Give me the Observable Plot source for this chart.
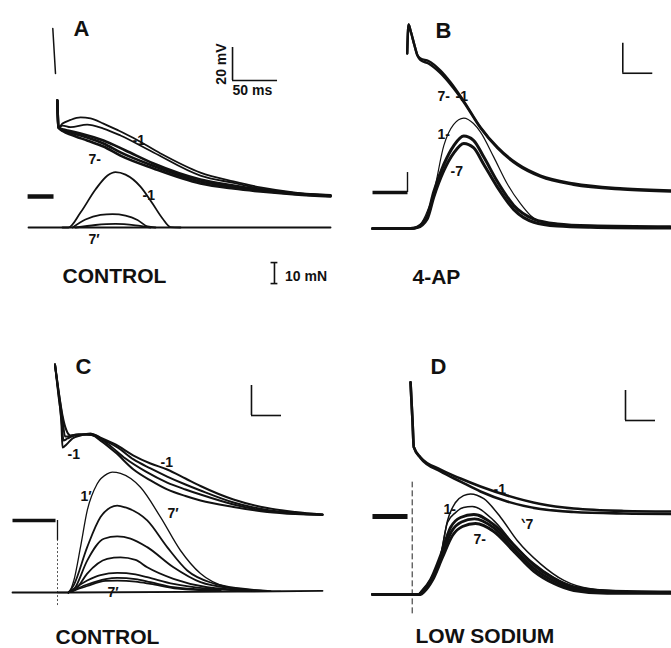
<!DOCTYPE html>
<html>
<head>
<meta charset="utf-8">
<script src="https://cdn.jsdelivr.net/npm/d3@7"></script>
<script src="https://cdn.jsdelivr.net/npm/@observablehq/plot@0.6"></script>
<style>
  html, body { margin: 0; padding: 0; background: #fff; }
  #fig { position: relative; width: 671px; height: 648px; overflow: hidden; background: #fff; }
  #fig svg { position: absolute; }
</style>
</head>
<body>
<div id="fig"></div>
<script>
// ---------- DATA: time (ms from stimulus), membrane potential (mV above rest), force (mN) ----------
// Panel A — CONTROL
const aArtifact = [[-3,101.8],[0,74.5]];
const aV1 = [[2.0,58.2],[3.3,41.8],[7.8,44.2],[16.7,46.4],[27.8,47.9],[38.9,47.3],[53.3,44.2],[70,40],[86.7,35.5],[116.7,26.1],[161,14.5],[197.8,9.1],[227.8,5.5],[266.7,2.4],[305.6,0.9]];
const aV2 = [[2.0,58.2],[3.3,41.8],[7.8,43.0],[16.7,42.0],[35.2,43.6],[53.3,41.2],[72.2,37.0],[108.9,26.7],[161,12.7],[197.8,8.2],[227.8,4.8],[266.7,2.1],[305.6,0.6]];
const aV3 = [[2.0,58.2],[3.3,41.8],[8.9,40.6],[13.3,40.0],[27.8,38.2],[53.3,33.9],[77.8,27.9],[108.9,20.0],[161,10.3],[197.8,6.7],[227.8,4.2],[266.7,1.8],[305.6,0.6]];
const aV5 = [[2.0,58.2],[3.3,41.8],[8.9,40.0],[16.7,38.8],[35.2,35.8],[53.3,32.1],[72.2,26.7],[108.9,18.5],[161,9.1],[197.8,5.8],[227.8,3.6],[266.7,1.5],[305.6,0.3]];
const aV7 = [[2.0,58.2],[3.3,41.8],[8.9,39.4],[16.7,37.6],[35.2,33.9],[53.3,30.3],[72.2,24.8],[108.9,17.0],[161,7.9],[197.8,4.8],[227.8,3.0],[266.7,1.2],[305.6,0]];
const aRest = [[-31,0],[-2.2,0]];
const aBase = [[-30,0],[305.6,0]];
const aF1 = [[7.8,0],[14.4,0],[27.8,7.1],[44.4,18.1],[57.8,24.8],[66.7,26.4],[77.8,25.2],[94.4,19.5],[107.8,11.4],[118.9,4.3],[127.8,0.2],[138.9,0]];
const aF2 = [[18.9,0],[33.3,3.8],[50,6.0],[63.3,6.4],[77.8,5.7],[91.1,3.6],[102.2,0.5],[111.1,0]];
const aF7 = [[22.2,0],[44.4,1.2],[66.7,1.7],[88.9,1.0],[105.6,0]];

// Panel B — 4-AP
const bV1 = [[-0.5,92.7],[1.7,112],[5,108],[11.7,98],[16.7,91.3],[21.7,89.3],[35,87.7],[55,81.3],[71.7,73.5],[93.3,61.3],[121.7,43.5],[150,30.2],[183.3,19.1],[221.7,11.3],[276.7,6],[360,2.7],[440,1.3]];
const bV7 = [[-0.5,92.7],[1.7,112],[5,108],[11.7,98],[16.7,91.3],[21.7,88.3],[35,86],[55,79.5],[71.7,72],[93.3,60.5],[121.7,43],[150,29.5],[183.3,18.3],[221.7,10.5],[276.7,5.2],[360,2],[440,0.7]];
const bRest = [[-58.3,0],[0,0]];
const bF1 = [[5,0],[18.3,1],[30,6.2],[43.3,16.7],[60.5,39.5],[76.7,49.5],[93.8,52.6],[110,50],[121.7,45.9],[143.8,34],[166.2,21.3],[188.3,11.8],[205,6.2],[232.8,2.2],[271.7,1],[438.3,0.6]];
const bF2 = [[-58.3,0],[5,0],[16.2,0.7],[32.8,6],[43.8,17.5],[60.5,30.5],[77.2,39.5],[93.8,44],[110,42],[127.2,34],[149.5,22.5],[177.2,11],[210.5,4.5],[249.5,2.2],[305,1.3],[438.3,0.8]];
const bF7 = [[-58.3,0],[5,0],[16.2,0.4],[32.8,4.5],[43.8,15],[60.5,27.5],[77.2,36],[93.8,40.5],[110,38.5],[127.2,30.5],[149.5,19.8],[177.2,9],[210.5,3],[249.5,1.2],[305,0.6],[438.3,0.2]];

// Panel C — CONTROL
const cV1 = [[-4.2,104],[1.7,83.3],[6.7,63.3],[8.3,48.7],[15,50.7],[25,54.7],[38.3,56.7],[55,58],[71.7,55.3],[96.7,50.7],[126.7,43.3],[155,38],[182.8,34],[213.3,28],[238.3,23],[293.3,14],[349.5,8.3],[396.7,5.7],[441.7,4]];
const cV3 = [[-4.2,104],[1.7,84.7],[6.7,66.7],[10,53.3],[16.7,54.7],[28.3,56.7],[41.7,57.3],[58.3,57.3],[75,54],[100,48.7],[126.7,40.7],[155,34.7],[182.8,29.3],[213.3,24],[238.3,20],[293.3,12],[349.5,7],[396.7,5],[441.7,4]];
const cV5 = [[-4.2,104],[1.7,86],[8.3,68],[12.5,56],[18.3,56],[31.7,57.3],[48.3,57.3],[65,56],[85,50.7],[113.3,41.3],[146.7,32.7],[182.8,25.3],[213.3,20.7],[238.3,17.3],[293.3,10.7],[349.5,6.3],[396.7,4.7],[441.7,3.8]];
const cV7 = [[-4.2,104],[1.7,86.7],[8.3,70],[15,60],[21.7,56.7],[35,57.3],[55,57.3],[71.7,53.3],[96.7,45.3],[126.7,34],[155,26.7],[182.8,20.7],[213.3,16.3],[238.3,13.3],[293.3,9],[349.5,5.7],[396.7,4.3],[441.7,3.7]];
const cRest = [[-75,0],[-3.3,0]];
const cBase = [[-75,0],[18.3,0],[300,0.4],[441.7,0.8]];
const cF1 = [[0,0],[18.3,0],[27.2,5.7],[38.3,21.6],[49.5,39],[66.2,51.8],[82.8,56.5],[91.2,57.3],[105,56.7],[138.3,50.1],[171.7,35.9],[205,20],[238.3,9],[282.8,2.5],[321.7,1],[371.7,0.5]];
const cF2 = [[18.3,0],[26.7,3.3],[49.5,21.6],[71.7,35.9],[88.3,40.5],[99.5,41.4],[113.3,40.5],[149.5,34.3],[182.8,21.6],[216.2,10.5],[260,4.3],[305,1.9],[355,0.7]];
const cF3 = [[18.3,0],[28.3,1.9],[49.5,15.2],[77.2,25.6],[99.5,26.7],[121.7,25.7],[149.5,21.6],[193.3,12],[238.3,4.9],[293.3,1.9],[346.7,0.7]];
const cF4 = [[18.3,0],[30,1.4],[49.5,9],[82.8,16],[105,16.7],[130,15.5],[149.5,12],[193.3,6.5],[249.5,2.5],[321.7,1]];
const cF5 = [[18.3,0],[49.5,5.7],[71.7,8.3],[99.5,9.3],[130,8.6],[149.5,7.3],[193.3,4.1],[249.5,1.8],[321.7,0.7]];
const cF6 = [[18.3,0],[49.5,3.8],[80,6.4],[99.5,7],[130,6.4],[155,4.9],[193.3,2.5],[271.7,1]];
const cF7 = [[18.3,0],[49.5,3.1],[80,5.5],[99.5,5.7],[130,5.2],[155,4.1],[199.5,1.8],[271.7,0.7]];

// Panel D — LOW SODIUM
const dV1 = [[-2.8,89.5],[0.5,64],[2.7,46.2],[13.8,39.5],[47.2,31.3],[80.5,25.3],[113.8,20],[158.3,14],[213.8,8.3],[269.3,5.3],[352.7,3.7],[430.5,3.3]];
const dV7 = [[-2.8,89.5],[0.5,64],[2.7,46.2],[13.8,39],[47.2,30],[80.5,23.3],[113.8,16.7],[158.3,10],[213.8,5],[269.3,3],[352.7,2],[430.5,1.7]];
const dRest = [[-66.2,0],[-7.8,0]];
const dF1 = [[10.5,0],[17.2,1.9],[30.5,7.1],[47.2,18.1],[58.8,35.2],[72.2,43.8],[85.5,47.1],[97.2,47.9],[119.3,45.6],[147.2,36.8],[175,25.7],[213.8,14.6],[252.7,6.7],[297.2,2.7],[347.2,1.7]];
const dF2 = [[10.5,0],[17.2,1.9],[30.5,7.1],[47.2,18.4],[58.8,34.3],[72.2,39],[85.5,41.4],[100,41.9],[136,35.2],[169.3,24.1],[202.7,14.8],[236,8.1],[269.3,3.8],[325,1.7]];
const dF3 = [[-66.2,0],[10.5,0],[17.2,1.9],[30.5,7.1],[47.2,18.6],[63.8,31.9],[80.5,36.7],[102.7,38.1],[136,33.3],[169.3,23.6],[202.7,14],[236,7.6],[269.3,3.6],[325,1.7],[430.5,1.2]];
const dF5 = [[-66.2,0],[12.2,0],[18.8,1.7],[32.2,6.9],[48.8,18.1],[65.5,30],[82.2,34.5],[103.8,36],[136,31.7],[169.3,21.9],[202.7,12.4],[236,6.4],[269.3,2.7],[325,1],[430.5,0.8]];
const dF7 = [[-66.2,0],[13.8,0],[20.5,1.4],[33.8,6.7],[50.5,17.6],[67.2,28.1],[83.8,32.4],[105.5,33.8],[136,30],[169.3,20.5],[202.7,11],[236,5.2],[269.3,1.9],[325,0.5],[430.5,0.5]];

// Text
const panelLetters = ["A", "B", "C", "D"];
const conditions = ["CONTROL", "4-AP", "CONTROL", "LOW SODIUM"];
const barLabels = {mV: "20 mV", ms: "50 ms", mN: "10 mN"};
const barSize = {mV: 20, ms: 50, mN: 10};

// ---------- LAYOUT (pixels per unit, origins within each panel) ----------
const FONT = "Liberation Sans, Arial, Helvetica, sans-serif";
const layouts = [
  {left: 0,   top: 0,   w: 335, h: 320, x0: 55,  y0: 196, pxMs: 0.9, pxMV: 1.65, fBase: 227, pxMN: 2.1},
  {left: 335, top: 0,   w: 336, h: 320, x0: 72,  y0: 192, pxMs: 0.6, pxMV: 1.5,  fBase: 228, pxMN: 2.1},
  {left: 0,   top: 320, w: 335, h: 328, x0: 57,  y0: 200, pxMs: 0.6, pxMV: 1.5,  fBase: 272, pxMN: 2.1},
  {left: 335, top: 320, w: 336, h: 328, x0: 76.7,y0: 196, pxMs: 0.6, pxMV: 1.5,  fBase: 274, pxMN: 2.1}
];

function rows(list, kind, L) {
  const off = (L.y0 - L.fBase) / L.pxMV, k = L.pxMN / L.pxMV;
  const out = [];
  for (const [arr, id] of list) for (const [t, val] of arr)
    out.push({t, v: kind === "F" ? off + val * k : val, id});
  return out;
}
function lines(list, kind, L, sw, extra = {}) {
  return Plot.line(rows(list, kind, L), {x: "t", y: "v", z: "id", stroke: "#111", strokeWidth: sw,
    curve: "monotone-x", strokeLinecap: "round", strokeLinejoin: "round", ...extra});
}
function fv(L, F) { return (L.y0 - L.fBase) / L.pxMV + F * L.pxMN / L.pxMV; }
function txt(items, size, extra = {}) {
  return Plot.text(items, {x: "t", y: "v", text: "s", textAnchor: "start", lineAnchor: "bottom",
    fontSize: size, fontFamily: FONT, fontWeight: "bold", fill: "#111", ...extra});
}
function Lbar(t, v) {
  return [
    Plot.ruleX([t], {y1: v, y2: v + barSize.mV, stroke: "#111", strokeWidth: 1.6}),
    Plot.ruleY([v], {x1: t, x2: t + barSize.ms, stroke: "#111", strokeWidth: 1.6})
  ];
}
function panel(L, marks) {
  const svg = Plot.plot({
    width: L.w, height: L.h, margin: 0,
    x: {domain: [(0 - L.x0) / L.pxMs, (L.w - L.x0) / L.pxMs], axis: null},
    y: {domain: [(L.y0 - L.h) / L.pxMV, L.y0 / L.pxMV], axis: null},
    style: {background: "transparent", overflow: "visible"},
    marks
  });
  svg.style.left = L.left + "px";
  svg.style.top = L.top + "px";
  document.getElementById("fig").appendChild(svg);
}

const BIG = 21, SMALL = 14;

// Panel A
{
  const L = layouts[0];
  panel(L, [
    lines([[aArtifact, "art"]], "V", L, 1.5),
    lines([[aV1, 1], [aV2, 2]], "V", L, 1.8),
    lines([[aV3, 3], [aV5, 5], [aV7, 7]], "V", L, 2.6),
    lines([[aRest, "r"]], "V", L, 4.5, {strokeLinecap: "butt"}),
    lines([[aBase, "b"]], "F", L, 1.8),
    lines([[aF1, 1], [aF2, 2], [aF7, 7]], "F", L, 1.8),
    ...Lbar(196.7, 70.3),
    Plot.ruleX([243.3], {y1: fv(L, -26.7), y2: fv(L, -26.7 + barSize.mN), stroke: "#111", strokeWidth: 1.6}),
    Plot.ruleY([fv(L, -26.7), fv(L, -26.7 + barSize.mN)], {x1: 239.5, x2: 247.1, stroke: "#111", strokeWidth: 1.6}),
    txt([{t: 20, v: 97, s: panelLetters[0]}], BIG + 1),
    txt([{t: 7.8, v: -52.7, s: conditions[0]}], BIG),
    txt([{t: 196.7, v: 61.5, s: barLabels.ms}], SMALL),
    txt([{t: 255, v: -51.5, s: barLabels.mN}], SMALL),
    txt([{t: 189, v: 80.3, s: barLabels.mV}], SMALL, {rotate: -90, textAnchor: "middle", lineAnchor: "bottom"}),
    txt([{t: 85.6, v: 31, s: "-1"}, {t: 36.7, v: 20, s: "7-"}, {t: 96.7, v: -2.4, s: "-1"}, {t: 36.7, v: -28.5, s: "7′"}], SMALL)
  ]);
}
// Panel B
{
  const L = layouts[1];
  panel(L, [
    lines([[bV1, 1], [bV7, 7]], "V", L, 2.4),
    lines([[bRest, "r"]], "V", L, 3.5, {strokeLinecap: "butt"}),
    Plot.ruleX([0], {y1: 0, y2: 13.3, stroke: "#111", strokeWidth: 1.4}),
    lines([[bF2, 2], [bF7, 7]], "F", L, 3),
    lines([[bF1, 1]], "F", L, 1.2),
    ...Lbar(358.8, 79.5),
    txt([{t: 46.7, v: 103.3, s: panelLetters[1]}], BIG + 1),
    txt([{t: 8.3, v: -60.7, s: conditions[1]}], BIG),
    txt([{t: 50, v: 61.3, s: "7-"}, {t: 80, v: 61.3, s: "-1"}, {t: 50, v: 36, s: "1-"}, {t: 71.7, v: 11.3, s: "-7"}], SMALL)
  ]);
}
// Panel C
{
  const L = layouts[2];
  panel(L, [
    lines([[cV1, 1], [cV3, 3], [cV5, 5], [cV7, 7]], "V", L, 2),
    lines([[cRest, "r"]], "V", L, 3.5, {strokeLinecap: "butt"}),
    Plot.ruleX([0], {y1: -13.3, y2: 0, stroke: "#111", strokeWidth: 1.3}),
    Plot.ruleX([0], {y1: -56.7, y2: -13.3, stroke: "#555", strokeWidth: 1, strokeDasharray: "2,2"}),
    lines([[cBase, "b"]], "F", L, 1.8),
    lines([[cF1, 1]], "F", L, 1.3),
    lines([[cF2, 2], [cF3, 3], [cF4, 4], [cF5, 5], [cF6, 6], [cF7, 7]], "F", L, 1.8),
    ...Lbar(323.3, 70),
    txt([{t: 30, v: 98, s: panelLetters[2]}], BIG + 1),
    txt([{t: -3.3, v: -82, s: conditions[2]}], BIG),
    txt([{t: 16.7, v: 41.3, s: "-1"}, {t: 171.7, v: 35.5, s: "-1"}, {t: 183.3, v: 2, s: "7′"}, {t: 38.3, v: 13.3, s: "1′"}, {t: 83.3, v: -51.3, s: "7′"}], SMALL)
  ]);
}
// Panel D
{
  const L = layouts[3];
  panel(L, [
    lines([[dV1, 1], [dV7, 7]], "V", L, 2.6),
    lines([[dRest, "r"]], "V", L, 5, {strokeLinecap: "butt"}),
    Plot.ruleX([0], {y1: -64.9, y2: 22.9, stroke: "#222", strokeWidth: 1, strokeDasharray: "6,3"}),
    lines([[dF3, 3], [dF5, 5], [dF7, 7]], "F", L, 2.8),
    lines([[dF1, 1], [dF2, 2]], "F", L, 1.5),
    ...Lbar(355.5, 64),
    txt([{t: 30.5, v: 95.3, s: panelLetters[3]}], BIG + 1),
    txt([{t: 5.5, v: -84.5, s: conditions[3]}], BIG),
    txt([{t: 135.5, v: 15.3, s: "-1"}, {t: 183.8, v: -8, s: "‵7"}, {t: 52.2, v: 2, s: "1-"}, {t: 102.2, v: -18, s: "7-"}], SMALL)
  ]);
}
</script>
</body>
</html>
